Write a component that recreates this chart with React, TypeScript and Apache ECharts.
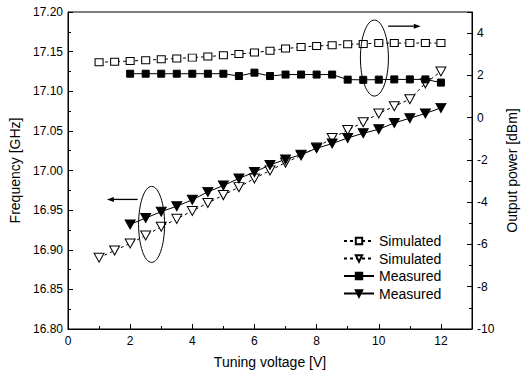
import React, { useEffect, useRef } from 'react';
import * as echarts from 'echarts';

// Tuning voltage [V]
const simVoltage = [1, 1.5, 2, 2.5, 3, 3.5, 4, 4.5, 5, 5.5, 6, 6.5, 7, 7.5, 8, 8.5, 9, 9.5, 10, 10.5, 11, 11.5, 12];
const measVoltage = [2, 2.5, 3, 3.5, 4, 4.5, 5, 5.5, 6, 6.5, 7, 7.5, 8, 8.5, 9, 9.5, 10, 10.5, 11, 11.5, 12];

// Frequency [GHz] (left axis)
const simFrequency = [16.890, 16.899, 16.908, 16.918, 16.929, 16.939, 16.949, 16.959, 16.969, 16.979, 16.990, 17.000, 17.010, 17.019, 17.029, 17.041, 17.051, 17.061, 17.072, 17.081, 17.090, 17.110, 17.125];
const measFrequency = [16.932, 16.940, 16.948, 16.955, 16.963, 16.973, 16.981, 16.990, 16.998, 17.007, 17.014, 17.020, 17.028, 17.034, 17.041, 17.047, 17.052, 17.060, 17.066, 17.072, 17.079];

// Output power [dBm] (right axis)
const simPower = [2.62, 2.65, 2.68, 2.72, 2.76, 2.80, 2.84, 2.89, 2.95, 3.01, 3.08, 3.17, 3.27, 3.34, 3.39, 3.43, 3.47, 3.49, 3.53, 3.53, 3.53, 3.53, 3.53];
const measPower = [2.08, 2.08, 2.08, 2.08, 2.08, 2.08, 2.08, 1.97, 2.13, 1.97, 2.04, 2.04, 2.04, 2.04, 1.80, 1.79, 1.80, 1.81, 1.81, 1.81, 1.66];

const legendNames = ['Simulated power', 'Simulated frequency', 'Measured power', 'Measured frequency'];

// annotation anchors in data space: [voltage, value]
const leftEllipse = { center: [2.69, 16.932], rx: 13, ry: 38 };
const leftArrow = { from: [2.24, 16.9635], to: [1.25, 16.9635] };
const rightEllipse = { center: [9.86, 2.82], rx: 14, ry: 38 };
const rightArrow = { from: [10.3, 4.33], to: [11.35, 4.33] };

const FONT = "'Liberation Sans', Arial, sans-serif";
const DOWN_TRI = 'path://M0,0 L10,0 L5,9 Z';

const pair = (xs: number[], ys: number[]) => xs.map((x, i) => [x, ys[i]]);

export default function App() {
  const ref = useRef<HTMLDivElement>(null);
  useEffect(() => {
    const chart = echarts.init(ref.current!, null, { renderer: 'svg' });
    const axisCommon = {
      axisLine: { show: true, onZero: false, lineStyle: { color: '#000', width: 1 } },
      axisTick: { show: true, inside: true, length: 5, lineStyle: { color: '#000' } },
      minorTick: { show: true, splitNumber: 2, length: 3, lineStyle: { color: '#000' } },
      splitLine: { show: false },
      nameTextStyle: { color: '#000', fontSize: 14, fontFamily: FONT },
    };
    const option: any = {
      animation: false,
      backgroundColor: '#fff',
      textStyle: { fontFamily: FONT },
      grid: { left: 68, right: 56, top: 12, bottom: 44, show: true, borderColor: '#000', borderWidth: 1, backgroundColor: 'transparent' },
      legend: {
        data: legendNames,
        orient: 'vertical',
        left: 343,
        top: 234,
        itemWidth: 30,
        itemHeight: 8,
        itemGap: 3.5,
        padding: 0,
        textStyle: { color: '#000', fontSize: 14, fontFamily: FONT, lineHeight: 14 },
        formatter: (name: string) => name.split(' ')[0],
      },
      xAxis: {
        type: 'value',
        min: 0,
        max: 13,
        interval: 2,
        name: 'Tuning voltage [V]',
        nameLocation: 'middle',
        nameGap: 26,
        ...axisCommon,
        axisLabel: { color: '#000', fontSize: 12, margin: 6, showMaxLabel: false, fontFamily: FONT },
      },
      yAxis: [
        {
          type: 'value',
          min: 16.8,
          max: 17.2,
          interval: 0.05,
          name: 'Frequency [GHz]',
          nameLocation: 'middle',
          nameRotate: 90,
          nameGap: 42,
          ...axisCommon,
          axisLabel: { color: '#000', fontSize: 12, margin: 5, fontFamily: FONT, formatter: (v: number) => v.toFixed(2) },
        },
        {
          type: 'value',
          position: 'right',
          min: -10,
          max: 5,
          interval: 2,
          name: 'Output power [dBm]',
          nameLocation: 'middle',
          nameRotate: 90,
          nameGap: 30,
          ...axisCommon,
          axisLabel: { color: '#000', fontSize: 12, margin: 5, showMaxLabel: false, fontFamily: FONT },
        },
      ],
      series: [
        {
          name: legendNames[0],
          type: 'line',
          yAxisIndex: 1,
          data: pair(simVoltage, simPower),
          symbol: 'rect',
          symbolSize: [8, 7],
          itemStyle: { color: '#fff', borderColor: '#000', borderWidth: 1 },
          lineStyle: { color: '#000', width: 1, type: [3, 3] },
        },
        {
          name: legendNames[1],
          type: 'line',
          yAxisIndex: 0,
          data: pair(simVoltage, simFrequency),
          symbol: DOWN_TRI,
          symbolSize: [10, 9],
          itemStyle: { color: '#fff', borderColor: '#000', borderWidth: 1 },
          lineStyle: { color: '#000', width: 1, type: [3, 3] },
        },
        {
          name: legendNames[2],
          type: 'line',
          yAxisIndex: 1,
          data: pair(measVoltage, measPower),
          symbol: 'rect',
          symbolSize: [7, 7],
          itemStyle: { color: '#000', borderColor: '#000', borderWidth: 1 },
          lineStyle: { color: '#000', width: 1 },
        },
        {
          name: legendNames[3],
          type: 'line',
          yAxisIndex: 0,
          data: pair(measVoltage, measFrequency),
          symbol: DOWN_TRI,
          symbolSize: [10, 9],
          itemStyle: { color: '#000', borderColor: '#000', borderWidth: 1 },
          lineStyle: { color: '#000', width: 1 },
        },
      ],
    };
    chart.setOption(option);

    const px = (p: number[], yAxisIndex: number) =>
      chart.convertToPixel({ xAxisIndex: 0, yAxisIndex } as any, p) as number[];

    const arrow = (from: number[], to: number[], yAxisIndex: number) => {
      const a = px(from, yAxisIndex);
      const b = px(to, yAxisIndex);
      const dir = Math.sign(b[0] - a[0]);
      const head = 7;
      return [
        { type: 'line', shape: { x1: a[0], y1: a[1], x2: b[0] - dir * head, y2: b[1] }, style: { stroke: '#000', lineWidth: 1.3 } },
        {
          type: 'polygon',
          shape: { points: [[b[0], b[1]], [b[0] - dir * head, b[1] - 2.5], [b[0] - dir * head, b[1] + 2.5]] },
          style: { fill: '#000' },
        },
      ];
    };
    const ellipse = (e: { center: number[]; rx: number; ry: number }, yAxisIndex: number) => {
      const c = px(e.center, yAxisIndex);
      return {
        type: 'ellipse',
        shape: { cx: c[0], cy: c[1], rx: e.rx, ry: e.ry },
        style: { fill: 'none', stroke: '#000', lineWidth: 1 },
        z: 10,
      };
    };

    chart.setOption({
      graphic: [
        ellipse(leftEllipse, 0),
        ...arrow(leftArrow.from, leftArrow.to, 0),
        ellipse(rightEllipse, 1),
        ...arrow(rightArrow.from, rightArrow.to, 1),
      ],
    });

    return () => chart.dispose();
  }, []);
  return <div ref={ref} style={{ position: 'fixed', left: 0, top: 0, width: 528, height: 374 }} />;
}
